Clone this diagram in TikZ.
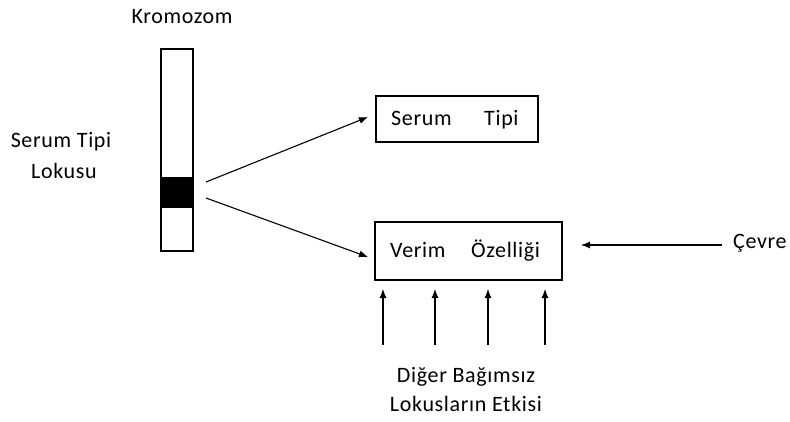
\documentclass[tikz,border=0pt]{standalone}
\usepackage{fontspec}
\setmainfont{Carlito}[LetterSpace=3]
\usetikzlibrary{arrows.meta}
\begin{document}
\begin{tikzpicture}[x=1pt,y=-1pt,
  lbl/.style={font=\fontsize{22}{26}\selectfont, inner sep=0pt, anchor=base},
  bx/.style={draw, line width=1.2pt, inner sep=0pt},
  arr/.style={line width=1.1pt, -{Latex[length=9pt,width=7pt]}}]
\useasboundingbox (0,0) rectangle (790,421);
% chromosome
\draw[line width=1.2pt] (161,49) rectangle (193,251);
\fill (161,177) rectangle (193,208);
\node[lbl] (krom) at (182,23) {Kromozom};
\node[lbl] (stl1) at (61,147) {Serum Tipi};
\node[lbl] (stl2) at (64,178) {Lokusu};
% boxes
\node[bx, minimum width=162pt, minimum height=46pt] (st) at (457,119) {};
\node[lbl, anchor=base west] (st1) at (391,125) {Serum};
\node[lbl, anchor=base west] (st2) at (484,125) {Tipi};
\node[bx, minimum width=187pt, minimum height=58pt] (ve) at (468.5,251) {};
\node[lbl, anchor=base west] (ve1) at (390,257) {Verim};
\node[lbl, anchor=base west] (ve2) at (471,257) {Özelliği};
% connectors
\coordinate (a1) at (206,182);
\coordinate (a2) at (206,198);
\draw[arr] (a1) -- (368,117);
\draw[arr] (a2) -- (368,257);
\node[lbl, anchor=base west] (cevre) at (733,248) {Çevre};
\coordinate (c0) at (722,245);
\draw[arr] (c0) -- (581,245);
\foreach \x/\n in {383/1,435/2,488/3,545/4}{
  \coordinate (b\n) at (\x,345);
  \draw[arr] (b\n) -- (\x,289);
}
\node[lbl] (dig1) at (466,382) {Diğer Bağımsız};
\node[lbl] (dig2) at (466,411) {Lokusların Etkisi};
\end{tikzpicture}
\end{document}
